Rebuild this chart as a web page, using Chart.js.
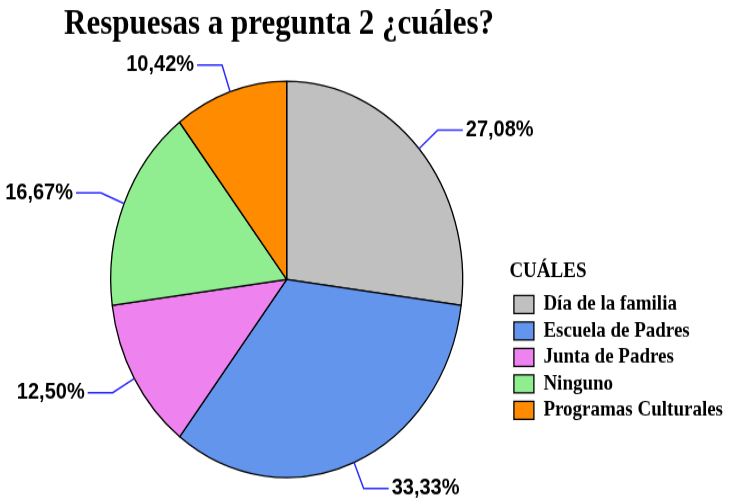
<!DOCTYPE html>
<html>
<head>
<meta charset="utf-8">
<script src="https://cdn.jsdelivr.net/npm/chart.js@4.4.0/dist/chart.umd.min.js"></script>
<style>
  html, body { margin: 0; padding: 0; background: #fff; overflow: hidden; }
  /* el lienzo se dibuja a 733x444 y se muestra estirado a 733x500 */
  #grafica { display: block; width: 733px; height: 500px; }
</style>
</head>
<body>
<canvas id="grafica" width="733" height="444" style="width:733px;height:500px"></canvas>
<script>
// ── Datos ─────────────────────────────────────────────
const categorias = [
    'Día de la familia', 'Escuela de Padres', 'Junta de Padres',
    'Ninguno', 'Programas Culturales'
];
const porcentajes = [27.08, 33.33, 12.50, 16.67, 10.42];

// ── Colores ───────────────────────────────────────────
const colores = ['#c0c0c0', '#6495ed', '#ee82ee', '#90ee90', '#ff8c00'];
const COLOR_GUIA = '#2a2aff';

// ── Formato 27,08% ────────────────────────────────────
function fmtPct(v) {
    return v.toFixed(2).replace('.', ',') + '%';
}

// ── Etiquetas exteriores con línea guía ───────────────
const etiquetasPorcentaje = {
    id: 'etiquetasPorcentaje',
    afterDatasetsDraw(chart) {
        const ctx = chart.ctx;
        const arcos = chart.getDatasetMeta(0).data;
        ctx.save();
        ctx.font = 'bold 20px "Liberation Sans", Arial, sans-serif';
        ctx.textBaseline = 'middle';
        arcos.forEach((arco, i) => {
            const { x, y, startAngle, endAngle, outerRadius } =
                arco.getProps(['x', 'y', 'startAngle', 'endAngle', 'outerRadius'], true);
            const medio = (startAngle + endAngle) / 2;
            const cos = Math.cos(medio), sin = Math.sin(medio);
            const x0 = x + cos * outerRadius, y0 = y + sin * outerRadius;
            const x1 = x + cos * (outerRadius + 25), y1 = y + sin * (outerRadius + 25);
            const der = cos >= 0;
            const x2 = x1 + (der ? 25 : -25);

            ctx.strokeStyle = COLOR_GUIA;
            ctx.lineWidth = 1.5;
            ctx.beginPath();
            ctx.moveTo(x0, y0);
            ctx.lineTo(x1, y1);
            ctx.lineTo(x2, y1);
            ctx.stroke();

            ctx.fillStyle = '#000';
            ctx.textAlign = der ? 'left' : 'right';
            ctx.fillText(fmtPct(porcentajes[i]), x2 + (der ? 3 : -3), y1);
        });
        ctx.restore();
    }
};

new Chart(document.getElementById('grafica'), {
    type: 'pie',
    data: {
        labels: categorias,
        datasets: [{
            data: porcentajes,
            backgroundColor: colores,
            borderColor: '#000',
            borderWidth: 1.3,
            clip: false
        }]
    },
    options: {
        responsive: false,
        animation: false,
        radius: 176,
        layout: { padding: { left: 64, right: 0, top: 0, bottom: 0 } },
        plugins: {
            title: {
                display: true,
                text: 'Respuesas a pregunta 2 ¿cuáles?',
                align: 'start',
                color: '#000',
                font: { family: '"Liberation Serif", "Times New Roman", serif', size: 31, weight: 'bold' },
                padding: { top: 3, bottom: 12 }
            },
            legend: {
                position: 'right',
                align: 'center',
                title: {
                    display: true,
                    text: 'CUÁLES',
                    position: 'start',
                    color: '#000',
                    font: { family: '"Liberation Serif", "Times New Roman", serif', size: 19, weight: 'bold' },
                    padding: { top: 166, bottom: 2 }
                },
                labels: {
                    boxWidth: 20,
                    boxHeight: 16,
                    padding: 4.5,
                    color: '#000',
                    font: { family: '"Liberation Serif", "Times New Roman", serif', size: 19, weight: 'bold' }
                }
            },
            tooltip: { enabled: false }
        }
    },
    plugins: [etiquetasPorcentaje]
});
</script>
</body>
</html>
